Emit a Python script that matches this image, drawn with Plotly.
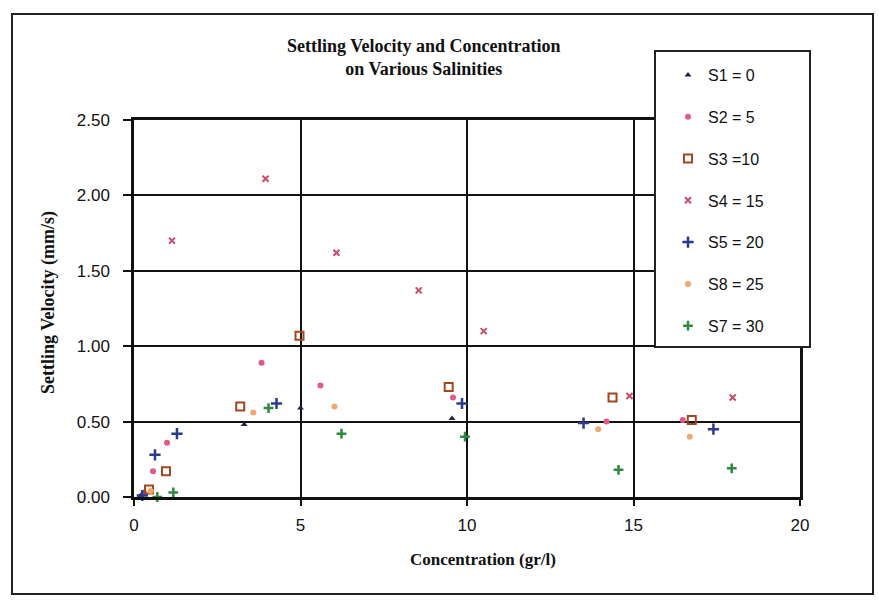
import plotly.graph_objects as go

# ---- data ----
s1_x = [0.20, 3.31, 5.00, 9.55]
s1_y = [0.01, 0.48, 0.59, 0.52]

s2_x = [0.30, 0.57, 0.99, 3.83, 5.60, 9.58, 14.19, 16.48]
s2_y = [0.03, 0.17, 0.36, 0.89, 0.74, 0.66, 0.50, 0.51]

s3_x = [0.45, 0.96, 3.19, 4.97, 9.45, 14.37, 16.75]
s3_y = [0.05, 0.17, 0.60, 1.07, 0.73, 0.66, 0.51]

s4_x = [1.14, 3.95, 6.08, 8.55, 10.50, 14.88, 17.98]
s4_y = [1.70, 2.11, 1.62, 1.37, 1.10, 0.67, 0.66]

s5_x = [0.25, 0.63, 1.29, 4.28, 9.85, 13.50, 17.40]
s5_y = [0.01, 0.28, 0.42, 0.62, 0.62, 0.49, 0.45]

s6_x = [0.50, 3.58, 6.02, 13.94, 16.69]
s6_y = [0.04, 0.56, 0.60, 0.45, 0.40]

s7_x = [0.70, 1.18, 4.04, 6.23, 9.94, 14.55, 17.95]
s7_y = [0.00, 0.03, 0.59, 0.42, 0.40, 0.18, 0.19]

series_names = ["S1 = 0", "S2 = 5", "S3 =10", "S4 = 15", "S5 = 20", "S8 = 25", "S7 = 30"]
x_ticks = [0, 5, 10, 15, 20]
y_ticks = [0.0, 0.5, 1.0, 1.5, 2.0, 2.5]
y_tick_labels = ["0.00", "0.50", "1.00", "1.50", "2.00", "2.50"]

title_text = "Settling Velocity and Concentration<br>on Various Salinities"
x_title = "Concentration (gr/l)"
y_title = "Settling Velocity (mm/s)"

# ---- styles ----
styles = [
    dict(symbol="triangle-up", size=6, color="#1c2150", line=dict(width=0)),
    dict(symbol="circle", size=6, color="#e2578e", line=dict(width=0)),
    dict(symbol="square-open", size=8, color="#a3461e", line=dict(width=2, color="#a3461e")),
    dict(symbol="x-thin", size=6, color="#cc4a68", line=dict(width=2, color="#cc4a68")),
    dict(symbol="cross-thin", size=8, color="#2b3a8c", line=dict(width=2.5, color="#2b3a8c")),
    dict(symbol="circle", size=6, color="#f2a86c", line=dict(width=0)),
    dict(symbol="cross-thin", size=7, color="#2f8a40", line=dict(width=2.5, color="#2f8a40")),
]

xs = [s1_x, s2_x, s3_x, s4_x, s5_x, s6_x, s7_x]
ys = [s1_y, s2_y, s3_y, s4_y, s5_y, s6_y, s7_y]

fig = go.Figure()
for i, (xv, yv) in enumerate(zip(xs, ys)):
    fig.add_trace(go.Scatter(
        x=xv, y=yv, mode="markers", name=series_names[i],
        legendgroup=f"g{i}", marker=styles[i], cliponaxis=False,
    ))

# plot area in pixels: left 134, right 800, top 120, bottom 497
W, H = 879, 608
L, R, T, B = 134, 800, 120, 497
pw, ph = R - L, B - T

def px(xp):
    return (xp - L) / pw

def py(yp):
    return (B - yp) / ph

fig.update_layout(
    width=W, height=H,
    margin=dict(l=L, r=W - R, t=T, b=H - B),
    paper_bgcolor="white", plot_bgcolor="white",
    showlegend=True,
    font=dict(family="Liberation Sans, Arial, sans-serif", color="black"),
    legend=dict(
        x=px(668), y=py(58), xanchor="left", yanchor="top",
        bgcolor="rgba(0,0,0,0)", borderwidth=0,
        font=dict(size=16, family="Liberation Sans, Arial, sans-serif", color="#111"),
        tracegroupgap=18, itemwidth=30, maxheight=500,
    ),
    xaxis=dict(
        range=[0, 20], tickmode="array", tickvals=x_ticks,
        ticktext=[str(v) for v in x_ticks],
        showgrid=True, gridcolor="#111", gridwidth=2,
        showline=True, linecolor="#111", linewidth=2.5, mirror=True,
        ticks="outside", ticklen=6, tickwidth=2, tickcolor="#111",
        ticklabelstandoff=5,
        tickfont=dict(size=17, family="Liberation Sans, Arial, sans-serif", color="#111"),
        zeroline=False, fixedrange=True,
    ),
    yaxis=dict(
        range=[0, 2.5], tickmode="array", tickvals=y_ticks, ticktext=y_tick_labels,
        showgrid=True, gridcolor="#111", gridwidth=2,
        showline=True, linecolor="#111", linewidth=2.5, mirror=True,
        ticks="outside", ticklen=8, tickwidth=2, tickcolor="#111",
        ticklabelstandoff=10,
        tickfont=dict(size=17, family="Liberation Sans, Arial, sans-serif", color="#111"),
        zeroline=False, fixedrange=True,
    ),
    shapes=[
        # outer chart frame
        dict(type="rect", xref="paper", yref="paper",
             x0=px(12), x1=px(873), y0=py(594), y1=py(14),
             line=dict(color="#222", width=2), fillcolor="rgba(0,0,0,0)", layer="below"),
        # legend box
        dict(type="rect", xref="paper", yref="paper",
             x0=px(655), x1=px(810), y0=py(347), y1=py(51),
             line=dict(color="#222", width=2), fillcolor="white", layer="above"),
    ],
    annotations=[
        dict(text="<b>" + title_text + "</b>", xref="paper", yref="paper",
             x=px(424), y=py(58), xanchor="center", yanchor="middle", showarrow=False,
             font=dict(size=18, family="Liberation Serif, Times New Roman, serif", color="#111")),
        dict(text="<b>" + x_title + "</b>", xref="paper", yref="paper",
             x=px(483), y=py(559), xanchor="center", yanchor="middle", showarrow=False,
             font=dict(size=17, family="Liberation Serif, Times New Roman, serif", color="#111")),
        dict(text="<b>" + y_title + "</b>", xref="paper", yref="paper",
             x=px(48), y=py(303), xanchor="center", yanchor="middle", showarrow=False,
             textangle=-90,
             font=dict(size=18, family="Liberation Serif, Times New Roman, serif", color="#111")),
    ],
)

fig.write_html("out.html")
